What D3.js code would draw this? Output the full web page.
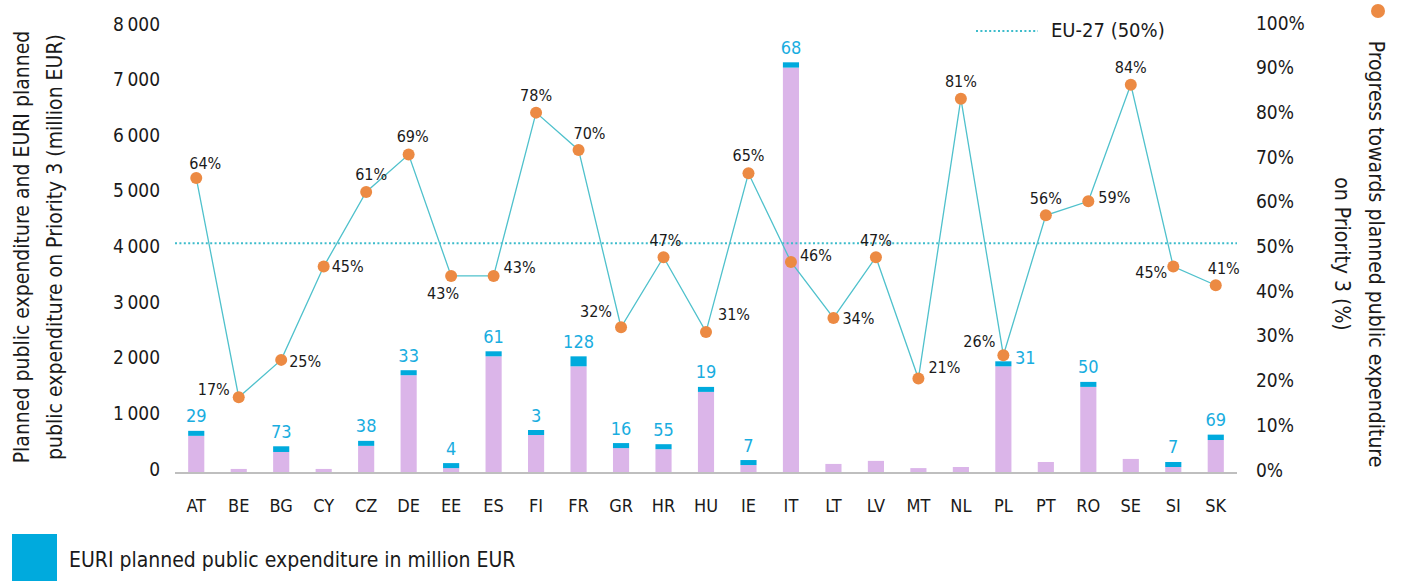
<!DOCTYPE html>
<html>
<head>
<meta charset="utf-8">
<script src="https://cdn.jsdelivr.net/npm/d3@7"></script>
<style>
  body { margin: 0; background: #fff; }
  svg text { font-family: "Liberation Sans Narrow", "DejaVu Sans Condensed", "Roboto Condensed", sans-serif; fill: #1a1a1a; }
</style>
</head>
<body>
<div id="chart"></div>
<script>
// data
var countries = ["AT","BE","BG","CY","CZ","DE","EE","ES","FI","FR","GR","HR","HU","IE","IT","LT","LV","MT","NL","PL","PT","RO","SE","SI","SK"];
// planned public expenditure on Priority 3, million EUR (purple part)
var planned = [650, 55, 360, 55, 470, 1740, 70, 2080, 665, 1900, 430, 410, 1440, 125, 7270, 145, 200, 70, 90, 1900, 180, 1530, 235, 90, 575];
// EURI planned public expenditure, million EUR (blue part, null = none)
var euri = [29, null, 73, null, 38, 33, 4, 61, 3, 128, 16, 55, 19, 7, 68, null, null, null, null, 31, null, 50, null, 7, 69];
// progress towards planned public expenditure on Priority 3 (%)
var progress = [64, 17, 25, 45, 61, 69, 43, 43, 78, 70, 32, 47, 31, 65, 46, 34, 47, 21, 81, 26, 56, 59, 84, 45, 41];
var eu27 = 50;
var leftTicks = [0, 1000, 2000, 3000, 4000, 5000, 6000, 7000, 8000];
var rightTicks = [0, 10, 20, 30, 40, 50, 60, 70, 80, 90, 100];

// where each % label sits around its dot [dx, dy, anchor]
var pctPos = {
  AT:[9,-14,"middle"], BE:[-9,-8,"end"], BG:[8,2,"start"], CY:[8,0,"start"],
  CZ:[5,-17,"middle"], DE:[4,-18,"middle"], EE:[-8,18,"middle"], ES:[10,-8,"start"],
  FI:[0,-17,"middle"], FR:[11,-16,"middle"], GR:[-9,-16,"end"], HR:[2,-17,"middle"],
  HU:[12,-17,"start"], IE:[0,-18,"middle"], IT:[9,-6,"start"], LT:[9,1,"start"],
  LV:[0,-17,"middle"], MT:[10,-11,"start"], NL:[0,-17,"middle"], PL:[-8,-14,"end"],
  PT:[0,-17,"middle"], RO:[10,-4,"start"], SE:[0,-17,"middle"], SI:[-6,6,"end"],
  SK:[8,-17,"middle"]
};

var W = 1403, H = 581;
var svg = d3.select("#chart").append("svg")
  .attr("width", W).attr("height", H);

// scales
var x = d3.scaleBand()
  .domain(countries)
  .range([175, 1237])
  .paddingInner(0.62)
  .paddingOuter(0.31);
var cx = d => x(d) + x.bandwidth() / 2;

var yL = d3.scaleLinear().domain([0, 8000]).range([472, 27]);
// percent marks sit on a slightly taller range than the printed tick labels
var yR = d3.scaleLinear().domain([0, 100]).range([476.5, 10]);
var yRtick = d3.scaleLinear().domain([0, 100]).range([473, 26]);

// left axis (labels only)
var gl = svg.append("g")
  .attr("transform", "translate(160,-3)")
  .call(d3.axisLeft(yL).tickValues(leftTicks).tickSize(0).tickPadding(0)
    .tickFormat(d => d3.format(",")(d).replace(/,/g, "\u2009")));
gl.select(".domain").remove();
gl.selectAll("text").style("font-size", "19px").attr("fill", "#1a1a1a");

// right axis
var gr = svg.append("g")
  .attr("transform", "translate(1256,-3)")
  .call(d3.axisRight(yRtick).tickValues(rightTicks).tickSize(0).tickPadding(0)
    .tickFormat(d => d + "%"));
gr.select(".domain").remove();
gr.selectAll("text").style("font-size", "19px").attr("fill", "#1a1a1a");

// bars
var bars = countries.map((c, i) => ({c: c, planned: planned[i], euri: euri[i]}));

svg.selectAll("rect.planned")
  .data(bars)
  .enter().append("rect")
  .attr("class", "planned")
  .attr("x", d => x(d.c))
  .attr("y", d => yL(d.planned))
  .attr("width", x.bandwidth())
  .attr("height", d => yL(0) - yL(d.planned))
  .attr("fill", "#dbb5e9");

// EURI on top, with a minimum visible height
var euriH = d => Math.max(5, (yL(0) - yL(d.euri)) * 1.4);
var withEuri = bars.filter(d => d.euri != null);

svg.selectAll("rect.euri")
  .data(withEuri)
  .enter().append("rect")
  .attr("class", "euri")
  .attr("x", d => x(d.c))
  .attr("y", d => yL(d.planned) - euriH(d))
  .attr("width", x.bandwidth())
  .attr("height", d => euriH(d))
  .attr("fill", "#00aadd");

svg.selectAll("text.euri")
  .data(withEuri)
  .enter().append("text")
  .attr("class", "euri")
  .attr("x", d => d.c == "PL" ? cx(d.c) + 22 : cx(d.c))
  .attr("y", d => d.c == "PL" ? yL(d.planned) - euriH(d) - 4 : yL(d.planned) - euriH(d) - 15)
  .attr("text-anchor", "middle")
  .attr("dominant-baseline", "central")
  .style("font-size", "18px")
  .style("fill", "#19ade0")
  .text(d => d.euri);

// x axis line
svg.append("line")
  .attr("x1", 175).attr("x2", 1237)
  .attr("y1", yL(0) + 1).attr("y2", yL(0) + 1)
  .attr("stroke", "#bfbfbf").attr("stroke-width", 2);

svg.selectAll("text.cat")
  .data(countries)
  .enter().append("text")
  .attr("class", "cat")
  .attr("x", d => cx(d))
  .attr("y", 505)
  .attr("text-anchor", "middle")
  .attr("dominant-baseline", "central")
  .style("font-size", "18px")
  .text(d => d);

// EU-27 reference line
svg.append("line")
  .attr("x1", 175).attr("x2", 1237)
  .attr("y1", yR(eu27)).attr("y2", yR(eu27))
  .attr("stroke", "#3dbccb").attr("stroke-width", 2)
  .attr("stroke-dasharray", "2,2.4");

// progress line + dots
var pts = countries.map((c, i) => ({c: c, v: progress[i]}));
svg.append("path")
  .datum(pts)
  .attr("fill", "none")
  .attr("stroke", "#4fc1cc")
  .attr("stroke-width", 1.3)
  .attr("d", d3.line().x(d => cx(d.c)).y(d => yR(d.v)));

svg.selectAll("circle.dot")
  .data(pts)
  .enter().append("circle")
  .attr("class", "dot")
  .attr("cx", d => cx(d.c))
  .attr("cy", d => yR(d.v))
  .attr("r", 6)
  .attr("fill", "#ec8a43");

svg.selectAll("text.pct")
  .data(pts)
  .enter().append("text")
  .attr("class", "pct")
  .attr("x", d => cx(d.c) + pctPos[d.c][0])
  .attr("y", d => yR(d.v) + pctPos[d.c][1])
  .attr("text-anchor", d => pctPos[d.c][2])
  .attr("dominant-baseline", "central")
  .style("font-size", "16px")
  .text(d => d.v + "%");

// axis titles
var lt = svg.append("text")
  .attr("transform", "translate(0,247) rotate(-90)")
  .attr("text-anchor", "middle")
  .style("font-size", "21px");
lt.append("tspan").attr("x", 0).attr("y", 22).attr("dominant-baseline", "central")
  .text("Planned public expenditure  and EURI planned");
lt.append("tspan").attr("x", 0).attr("y", 55).attr("dominant-baseline", "central")
  .text("public expenditure on Priority 3 (million EUR)");

var rt = svg.append("text")
  .attr("transform", "translate(0,254) rotate(90)")
  .attr("text-anchor", "middle")
  .style("font-size", "21px");
rt.append("tspan").attr("x", 0).attr("y", -1376).attr("dominant-baseline", "central")
  .text("Progress towards planned public expenditure");
rt.append("tspan").attr("x", 0).attr("y", -1342).attr("dominant-baseline", "central")
  .text("on Priority 3 (%)");

svg.append("circle")
  .attr("cx", 1378).attr("cy", 11).attr("r", 7)
  .attr("fill", "#ec8a43");

// legends
svg.append("line")
  .attr("x1", 976).attr("x2", 1038)
  .attr("y1", 31).attr("y2", 31)
  .attr("stroke", "#3dbccb").attr("stroke-width", 2)
  .attr("stroke-dasharray", "2,2.4");
svg.append("text")
  .attr("x", 1051).attr("y", 30)
  .attr("dominant-baseline", "central")
  .style("font-size", "20px")
  .text("EU-27 (50%)");

svg.append("rect")
  .attr("x", 12).attr("y", 534)
  .attr("width", 45).attr("height", 47)
  .attr("fill", "#00aadd");
svg.append("text")
  .attr("x", 69).attr("y", 560)
  .attr("dominant-baseline", "central")
  .style("font-size", "21px")
  .text("EURI planned public expenditure in million EUR");
</script>
</body>
</html>
